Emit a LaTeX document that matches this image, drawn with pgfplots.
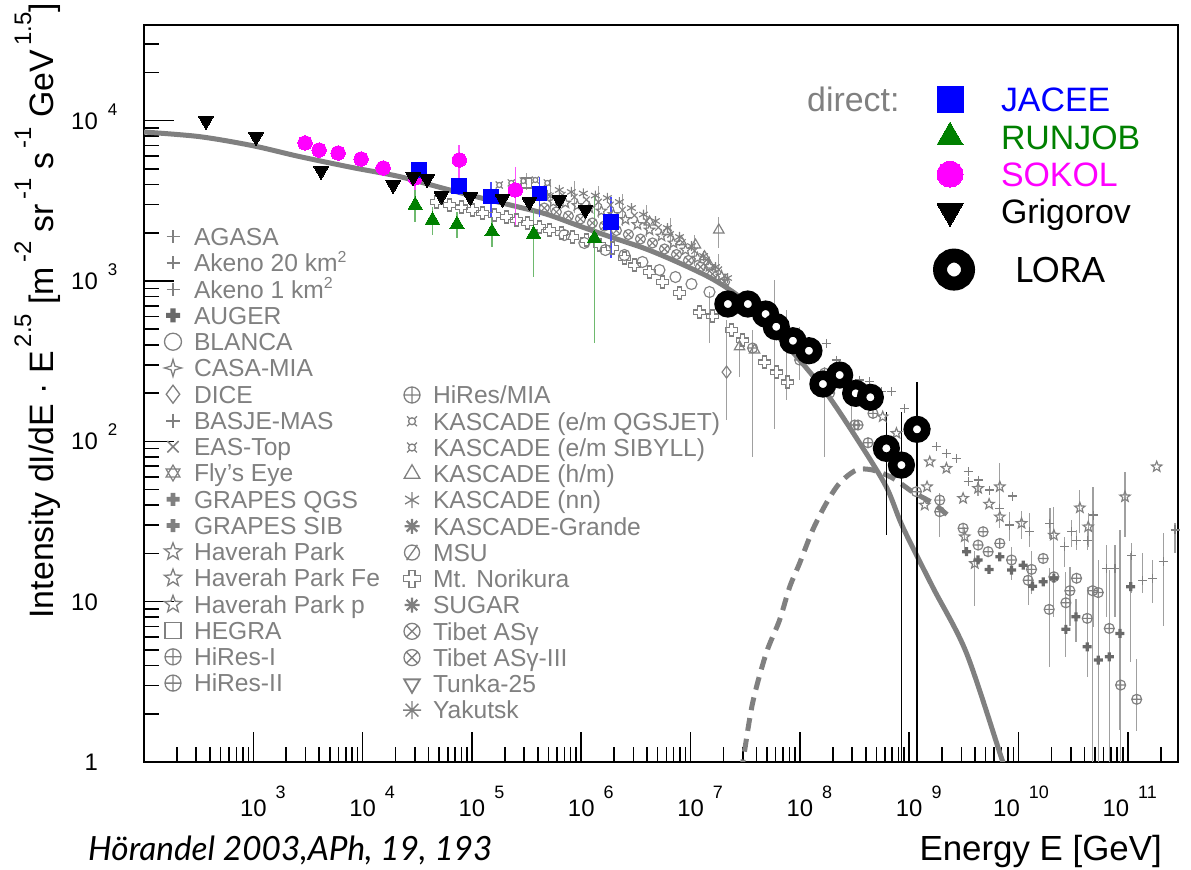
\documentclass[border=0pt]{standalone}
\usepackage{fontspec}
\setmainfont{Liberation Sans}
\newfontfamily\gill{Lato}
\usepackage{pgfplots}
\pgfplotsset{compat=1.18}
\usetikzlibrary{plotmarks}

\definecolor{gr}{RGB}{128,128,128}
\definecolor{grd}{RGB}{105,105,105}
\definecolor{grl}{RGB}{160,160,160}
\definecolor{rgreen}{RGB}{0,128,0}
\definecolor{rgbar}{RGB}{110,185,110}
\definecolor{jblue}{RGB}{0,0,255}
\definecolor{jbar}{RGB}{70,70,255}
\definecolor{smag}{RGB}{255,0,255}
\definecolor{sbar}{RGB}{255,80,255}

\pgfdeclareplotmark{ocross}{%
  \pgfpathmoveto{\pgfpoint{-0.35\pgfplotmarksize}{\pgfplotmarksize}}%
  \pgfpathlineto{\pgfpoint{0.35\pgfplotmarksize}{\pgfplotmarksize}}%
  \pgfpathlineto{\pgfpoint{0.35\pgfplotmarksize}{0.35\pgfplotmarksize}}%
  \pgfpathlineto{\pgfpoint{\pgfplotmarksize}{0.35\pgfplotmarksize}}%
  \pgfpathlineto{\pgfpoint{\pgfplotmarksize}{-0.35\pgfplotmarksize}}%
  \pgfpathlineto{\pgfpoint{0.35\pgfplotmarksize}{-0.35\pgfplotmarksize}}%
  \pgfpathlineto{\pgfpoint{0.35\pgfplotmarksize}{-\pgfplotmarksize}}%
  \pgfpathlineto{\pgfpoint{-0.35\pgfplotmarksize}{-\pgfplotmarksize}}%
  \pgfpathlineto{\pgfpoint{-0.35\pgfplotmarksize}{-0.35\pgfplotmarksize}}%
  \pgfpathlineto{\pgfpoint{-\pgfplotmarksize}{-0.35\pgfplotmarksize}}%
  \pgfpathlineto{\pgfpoint{-\pgfplotmarksize}{0.35\pgfplotmarksize}}%
  \pgfpathlineto{\pgfpoint{-0.35\pgfplotmarksize}{0.35\pgfplotmarksize}}%
  \pgfpathclose\pgfusepathqstroke}
\pgfdeclareplotmark{fcross}{%
  \pgfpathmoveto{\pgfpoint{-0.36\pgfplotmarksize}{\pgfplotmarksize}}%
  \pgfpathlineto{\pgfpoint{0.36\pgfplotmarksize}{\pgfplotmarksize}}%
  \pgfpathlineto{\pgfpoint{0.36\pgfplotmarksize}{0.36\pgfplotmarksize}}%
  \pgfpathlineto{\pgfpoint{\pgfplotmarksize}{0.36\pgfplotmarksize}}%
  \pgfpathlineto{\pgfpoint{\pgfplotmarksize}{-0.36\pgfplotmarksize}}%
  \pgfpathlineto{\pgfpoint{0.36\pgfplotmarksize}{-0.36\pgfplotmarksize}}%
  \pgfpathlineto{\pgfpoint{0.36\pgfplotmarksize}{-\pgfplotmarksize}}%
  \pgfpathlineto{\pgfpoint{-0.36\pgfplotmarksize}{-\pgfplotmarksize}}%
  \pgfpathlineto{\pgfpoint{-0.36\pgfplotmarksize}{-0.36\pgfplotmarksize}}%
  \pgfpathlineto{\pgfpoint{-\pgfplotmarksize}{-0.36\pgfplotmarksize}}%
  \pgfpathlineto{\pgfpoint{-\pgfplotmarksize}{0.36\pgfplotmarksize}}%
  \pgfpathlineto{\pgfpoint{-0.36\pgfplotmarksize}{0.36\pgfplotmarksize}}%
  \pgfpathclose\pgfusepathqfill}
\pgfdeclareplotmark{ostar}{%
  \pgfpathmoveto{\pgfpointpolar{90}{\pgfplotmarksize}}%
  \pgfpathlineto{\pgfpointpolar{126}{0.42\pgfplotmarksize}}%
  \pgfpathlineto{\pgfpointpolar{162}{\pgfplotmarksize}}%
  \pgfpathlineto{\pgfpointpolar{198}{0.42\pgfplotmarksize}}%
  \pgfpathlineto{\pgfpointpolar{234}{\pgfplotmarksize}}%
  \pgfpathlineto{\pgfpointpolar{270}{0.42\pgfplotmarksize}}%
  \pgfpathlineto{\pgfpointpolar{306}{\pgfplotmarksize}}%
  \pgfpathlineto{\pgfpointpolar{342}{0.42\pgfplotmarksize}}%
  \pgfpathlineto{\pgfpointpolar{18}{\pgfplotmarksize}}%
  \pgfpathlineto{\pgfpointpolar{54}{0.42\pgfplotmarksize}}%
  \pgfpathclose\pgfusepathqstroke}
\pgfdeclareplotmark{ofourstar}{%
  \pgfpathmoveto{\pgfpointpolar{90}{\pgfplotmarksize}}%
  \pgfpathlineto{\pgfpointpolar{45}{0.32\pgfplotmarksize}}%
  \pgfpathlineto{\pgfpointpolar{0}{\pgfplotmarksize}}%
  \pgfpathlineto{\pgfpointpolar{315}{0.32\pgfplotmarksize}}%
  \pgfpathlineto{\pgfpointpolar{270}{\pgfplotmarksize}}%
  \pgfpathlineto{\pgfpointpolar{225}{0.32\pgfplotmarksize}}%
  \pgfpathlineto{\pgfpointpolar{180}{\pgfplotmarksize}}%
  \pgfpathlineto{\pgfpointpolar{135}{0.32\pgfplotmarksize}}%
  \pgfpathclose\pgfusepathqstroke}
\pgfdeclareplotmark{hexagram}{%
  \pgfpathmoveto{\pgfpointpolar{90}{\pgfplotmarksize}}%
  \pgfpathlineto{\pgfpointpolar{210}{\pgfplotmarksize}}%
  \pgfpathlineto{\pgfpointpolar{330}{\pgfplotmarksize}}%
  \pgfpathclose
  \pgfpathmoveto{\pgfpointpolar{270}{\pgfplotmarksize}}%
  \pgfpathlineto{\pgfpointpolar{30}{\pgfplotmarksize}}%
  \pgfpathlineto{\pgfpointpolar{150}{\pgfplotmarksize}}%
  \pgfpathclose\pgfusepathqstroke}
\pgfdeclareplotmark{currency}{%
  \pgfpathcircle{\pgfpointorigin}{0.5\pgfplotmarksize}%
  \pgfpathmoveto{\pgfpointpolar{45}{0.5\pgfplotmarksize}}\pgfpathlineto{\pgfpointpolar{45}{\pgfplotmarksize}}%
  \pgfpathmoveto{\pgfpointpolar{135}{0.5\pgfplotmarksize}}\pgfpathlineto{\pgfpointpolar{135}{\pgfplotmarksize}}%
  \pgfpathmoveto{\pgfpointpolar{225}{0.5\pgfplotmarksize}}\pgfpathlineto{\pgfpointpolar{225}{\pgfplotmarksize}}%
  \pgfpathmoveto{\pgfpointpolar{315}{0.5\pgfplotmarksize}}\pgfpathlineto{\pgfpointpolar{315}{\pgfplotmarksize}}%
  \pgfusepathqstroke}
\pgfdeclareplotmark{oslash}{%
  \pgfpathcircle{\pgfpointorigin}{\pgfplotmarksize}%
  \pgfpathmoveto{\pgfpointpolar{235}{1.25\pgfplotmarksize}}\pgfpathlineto{\pgfpointpolar{55}{1.25\pgfplotmarksize}}%
  \pgfusepathqstroke}
\pgfdeclareplotmark{asteight}{%
  \pgfpathmoveto{\pgfpointpolar{0}{\pgfplotmarksize}}\pgfpathlineto{\pgfpointpolar{180}{\pgfplotmarksize}}%
  \pgfpathmoveto{\pgfpointpolar{45}{\pgfplotmarksize}}\pgfpathlineto{\pgfpointpolar{225}{\pgfplotmarksize}}%
  \pgfpathmoveto{\pgfpointpolar{90}{\pgfplotmarksize}}\pgfpathlineto{\pgfpointpolar{270}{\pgfplotmarksize}}%
  \pgfpathmoveto{\pgfpointpolar{135}{\pgfplotmarksize}}\pgfpathlineto{\pgfpointpolar{315}{\pgfplotmarksize}}%
  \pgfusepathqstroke}

\newcommand{\xtl}[2]{\makebox[0pt]{\hspace*{#2}10\rlap{\hspace{9bp}\raisebox{18bp}{\fontsize{18}{18}\selectfont #1}}}}
\newcommand{\ytl}[1]{10\rlap{\hspace{10bp}\raisebox{14bp}{\fontsize{17}{17}\selectfont #1}}}
\newcommand{\sps}[1]{\hspace{4bp}\raisebox{22bp}{\fontsize{24}{24}\selectfont #1}}
\newcommand{\kms}{\raisebox{9.5bp}{\fontsize{16}{16}\selectfont 2}}

\pgfplotsset{
  gdat/.style={only marks, color=gr, mark options={solid, line width=1.15bp},
    error bars/y dir=both, error bars/y explicit relative,
    error bars/error bar style={color=grl, line width=1.2bp},
    error bars/error mark=none},
}

\begin{document}
\begin{tikzpicture}[x=1bp,y=1bp]
\useasboundingbox (0,0) rectangle (1191,870);

\begin{axis}[
  at={(144bp,108bp)}, anchor=south west,
  scale only axis, width=1034bp, height=737bp,
  xmode=log, ymode=log,
  xmin=100, xmax=2.876e11, ymin=1, ymax=39540,
  axis line style={line width=2bp, black},
  tick style={line width=1.6bp, black},
  major tick length=30bp, minor tick length=15bp,
  tick align=inside,
  xtick pos=bottom, ytick pos=left,
  xtick={1e3,1e4,1e5,1e6,1e7,1e8,1e9,1e10,1e11},
  xticklabels={\xtl{3}{0bp},\xtl{4}{0bp},\xtl{5}{0bp},\xtl{6}{0bp},\xtl{7}{0bp},\xtl{8}{0bp},\xtl{9}{0bp},\xtl{10}{-24bp},\xtl{11}{-24bp}},
  minor xtick={200,300,400,500,600,700,800,900,
    2e3,3e3,4e3,5e3,6e3,7e3,8e3,9e3,
    2e4,3e4,4e4,5e4,6e4,7e4,8e4,9e4,
    2e5,3e5,4e5,5e5,6e5,7e5,8e5,9e5,
    2e6,3e6,4e6,5e6,6e6,7e6,8e6,9e6,
    2e7,3e7,4e7,5e7,6e7,7e7,8e7,9e7,
    2e8,3e8,4e8,5e8,6e8,7e8,8e8,9e8,
    2e9,3e9,4e9,5e9,6e9,7e9,8e9,9e9,
    2e10,3e10,4e10,5e10,6e10,7e10,8e10,9e10,2e11},
  ytick={1,10,100,1000,10000},
  yticklabels={1,10,\ytl{2},\ytl{3},\ytl{4}},
  minor ytick={2,3,4,5,6,7,8,9,20,30,40,50,60,70,80,90,200,300,400,500,600,700,800,900,
    2000,3000,4000,5000,6000,7000,8000,9000,20000,30000},
  tick label style={font=\fontsize{24}{24}\selectfont, inner sep=0pt},
  xticklabel style={anchor=base, yshift=-55bp},
  yticklabel style={anchor=base east, xshift=-46bp, yshift=-8.6bp},
]

% ---- grey compilation of air shower data ----
% Mt. Norikura
\addplot[gdat, mark=ocross, mark size=6bp] coordinates {
(4.71e4,3110) (6.20e4,2980) (7.98e4,2894) (1.006e5,2773) (1.242e5,2656) (1.600e5,2581)
(2.061e5,2507) (2.545e5,2402) (3.21e5,2301) (4.13e5,2172) (5.11e5,2081) (6.58e5,1993)
(8.29e5,1882) (1.114e6,1803) (1.465e6,1677) (1.928e6,1607) (2.483e6,1392) (3.064e6,1258)
(4.205e6,1138) (5.53e6,985.8) (7.92e6,841.8) (1.207e7,640.6) (1.587e7,604.7) (2.369e7,494.8)
(2.986e7,428.5) (4.75e7,312.4) (6.12e7,270.5) (7.72e7,234.4)};
% BLANCA-like circles
\addplot[gdat, mark=o, mark size=5.5bp] coordinates {
(7.0e5,1936) (1.067e6,1727) (1.663e6,1561) (2.483e6,1453) (3.627e6,1314) (5.19e6,1171)
(7.27e6,1059) (1.019e7,957.8) (1.489e7,854.0) += (0,0) -= (0,0.52)};
% knee cloud
\addplot[gdat, mark=asterisk, mark size=5bp] coordinates {
(4.89e5,3440) (6.30e5,3697) (8.11e5,3592) (1.045e6,3515) (1.346e6,3415) (1.734e6,3295)
(2.233e6,3110) (2.877e6,2853) (3.706e6,2599) (4.77e6,2367) (6.14e6,2141) (7.92e6,1882)
(1.019e7,1653) (1.315e7,1432) (1.690e7,1223) (2.178e7,1044)};
\addplot[gdat, mark=ostar, mark size=5.5bp] coordinates {
(5.55e5,3110) (7.15e5,3066) (9.21e5,2958) (1.186e6,2853) (1.528e6,2734) (1.968e6,2599)
(2.534e6,2420) (3.264e6,2252) (4.205e6,2081) (5.41e6,1909) (6.97e6,1727) (8.98e6,1561)
(1.157e7,1392) (1.489e7,1232) (1.919e7,1074)};
\addplot[gdat, mark=otimes, mark size=5bp] coordinates {
(4.59e5,2853) (5.92e5,2695) (7.62e5,2544) (9.82e5,2437) (1.264e6,2301) (1.627e6,2203)
(2.096e6,2065) (2.699e6,1951) (3.477e6,1828) (4.478e6,1727) (5.77e6,1584) (7.43e6,1463)
(9.57e6,1343) (1.232e7,1223) (1.587e7,1106) (2.044e7,985.8)};
\addplot[gdat, mark=x, mark size=4.5bp] coordinates {
(5.21e5,3391) += (0,0.26) -= (0,0.2)
(6.71e5,3440)
(8.65e5,3342) += (0,0.26) -= (0,0.2)
(1.114e6,3216)
(1.435e6,3110) += (0,0.26) -= (0,0.2)
(1.847e6,2980)
(2.379e6,2773) += (0,0.26) -= (0,0.2)
(3.064e6,2566)
(3.946e6,2367) += (0,0.26) -= (0,0.2)
(5.08e6,2160)
(6.55e6,1951) += (0,0.26) -= (0,0.2)
(8.43e6,1741)
(1.086e7,1543) += (0,0.26) -= (0,0.2)
(1.399e7,1354)
(1.812e7,1176) += (0,0.26) -= (0,0.2)};
\addplot[gdat, mark=currency, mark size=5bp] coordinates {
(1.778e5,3971) (2.291e5,4088) (2.950e5,4206) (3.80e5,4267) (4.89e5,4088)};
% KASCADE (h/m)
\addplot[gdat, mark=triangle, mark size=6bp] coordinates {
(4.205e6,2334) (6.14e6,2030) (8.20e6,1759) (1.109e7,1677) (1.341e7,1418) (1.489e7,1258)
(1.812e7,2081) += (0,0.21) -= (0,0.23)
(2.805e7,389.1) += (0,0.155) -= (0,0.35)
(3.85e7,371.1)};
% DICE
\addplot[gdat, mark=diamond, mark size=6bp] coordinates {
(2.133e7,270.5) += (0,1.11) -= (0,0.50)};
% HEGRA
\addplot[gdat, mark=square, mark size=5bp] coordinates {
(3.14e5,4088) += (0,0.15) -= (0,0.1)};
% HiRes-like points 1e7.5-1e8.5
\addplot[gdat, mark=oplus, mark size=5bp] coordinates {
(3.69e7,382) += (0,0.295) -= (0,0.79)
(4.276e7,631.6)
(5.87e7,494.8) += (0,1.05) -= (0,0.76)
(7.51e7,410.5) += (0,0.61) -= (0,0.56)
(9.94e7,321.5) += (0,0.61) -= (0,0.25)
(1.272e8,355.5)
(1.683e8,266.7) += (0,0.095) -= (0,0.70)
(1.871e8,200.1)
(2.957e8,208.9) += (0,0.05) -= (0,0.46)
(3.40e8,126.4)};
% AGASA / Akeno crosses
\addplot[gdat, mark=+, mark size=4.5bp] coordinates {
(1.75e8,409) (2.15e8,321.5) (3.52e8,241.3) (4.35e8,235.4) (5.57e8,203.9) (6.87e8,203.9)
(9.1e8,160.6) (1.164e9,135.8) (1.437e9,120.5) (1.775e9,92.5) (2.19e9,84.2) (2.705e9,78.3)
(3.456e9,64.6) (3.456e9,56.0) (4.266e9,57.4) (5.46e9,49.7)
(6.74e9,38.2) += (0,0.3) -= (0,0.25)
(8.81e9,45.6)
(8.32e9,30.05) += (0,0.2) -= (0,0.2)
(1.269e10,27.3) += (0,0.31) -= (0,0.2)
(1.936e10,30.8) += (0,0.25) -= (0,0.2)
(2.655e10,22.0) += (0,0.15) -= (0,0.25)
(3.057e10,27.3) += (0,0.18) -= (0,0.2)
(3.397e10,24.2) += (0,0.15) -= (0,0.13)
(4.25e10,24.2) += (0,0.15) -= (0,0.13)
(4.82e10,34.7) += (0,0.5) -= (0,0.8)
(6.40e10,16.1) += (0,0.4) -= (0,0.5)
(7.62e10,16.1) += (0,0.4) -= (0,0.5)
(1.084e11,19.5) += (0,0.19) -= (0,0.42)
(1.366e11,13.6) += (0,0.47) -= (0,0.17)
(1.687e11,14.0) += (0,0.3) -= (0,0.3)
(2.11e11,17.7) += (0,0.51) -= (0,0.6)
(2.70e11,28.0) += (0,0.1) -= (0,0.28)};
% Haverah Park
\addplot[gdat, mark=ostar, mark size=5.5bp] coordinates {
(5.72e8,142.3) (7.64e8,112.2) (1.541e9,74.6) (2.19e9,67.9) (1.455e9,52.1) (1.387e9,40.05)
(3.11e9,44.1)
(4.266e9,50.9) += (0,0.1) -= (0,0.1)
(6.74e9,52.1) += (0,0.4) -= (0,0.31)
(5.38e9,40.6) (6.74e9,33.8)
(3.22e9,25.4) += (0,0.15) -= (0,0.2)
(3.98e9,17.3) += (0,0.2) -= (0,0.46)
(1.065e10,30.8) += (0,0.2) -= (0,0.2)
(2.105e10,26.0) += (0,0.5) -= (0,0.37)
(3.64e10,38.5) += (0,0.29) -= (0,0.30)
(4.34e10,29.3) += (0,0.22) -= (0,0.25)
(9.41e10,45.1) += (0,0.43) -= (0,0.44)
(1.836e11,69.4)};
% HiRes
\addplot[gdat, mark=oplus, mark size=5bp] coordinates {
(3.17e8,126.4) (4.20e8,98.0) (4.66e8,149.5) (6.18e8,99.4) (7.11e8,84.2) (1.164e9,48.5)
(1.902e9,43.0)
(1.902e9,36.4) += (0,0.3) -= (0,0.3)
(3.11e9,28.7) (4.74e9,27.3) (4.266e9,22.55) (5.27e9,20.5) (6.74e9,23.1)
(8.63e9,18.2) += (0,0.2) -= (0,0.25)
(1.315e10,15.9) += (0,0.3) -= (0,0.3)
(1.224e10,13.6) += (0,0.25) -= (0,0.3)
(1.680e10,18.6)
(2.105e10,14.3) += (0,0.82) -= (0,0.44)
(1.906e10,8.95) += (0,0.82) -= (0,0.56)
(2.71e10,9.84) += (0,0.55) -= (0,0.48)
(2.95e10,11.7) += (0,0.4) -= (0,0.4)
(3.397e10,14.0)
(4.25e10,7.87) += (0,0.58) -= (0,0.56)
(4.76e10,11.7) += (0,3.45) -= (0,0.96)
(5.36e10,11.4) += (0,0.6) -= (0,0.96)
(6.76e10,6.81) += (0,1.09) -= (0,0.93)
(8.59e10,3.02) += (0,2.55) -= (0,0.85)
(1.205e11,2.46) += (0,0.78) -= (0,0.37)};
% AUGER / GRAPES filled crosses
\addplot[gdat, color=grd, mark=fcross, mark size=4.5bp] coordinates {
(3.342e9,20.5) (4.266e9,18.2) (5.38e9,15.9) (6.74e9,19.06) (8.63e9,15.74) (1.102e10,16.9)
(1.343e10,12.5) (1.680e10,13.3) (2.105e10,14.0)
(2.71e10,6.72) += (0,0.32) -= (0,0.33)
(3.35e10,8.05) += (0,0.3) -= (0,0.3)
(4.25e10,5.23) += (0,1.04) -= (0,0.35)
(5.36e10,4.32) += (0,2.8) -= (0,0.9)
(6.76e10,4.53) += (0,2.47) -= (0,0.9)
(8.47e10,6.34) += (0,3.4) -= (0,0.75)
(1.061e11,12.4) += (0,0.62) -= (0,0.66)};

% ---- model lines ----
\addplot[gr, line width=5bp, smooth, line join=round] coordinates {
(95,8520) (318.4,7962) (972.7,6998) (2618,5984) (8017,5105) (21580,4487) (57810,3750)
(116700,3319) (233900,2958) (476400,2618) (961600,2203) (1.928e6,1866) (3.917e6,1585)
(7.925e6,1294) (1.592e7,1028) (2.812e7,794.3) (4.285e7,587.5) (8.59e7,360.6) (1.746e8,200)
(3.524e8,97.5) (6.18e8,51.9) (8.73e8,29.2) (1.641e9,12.33) (3.342e9,4.775) (7.178e9,1.0)
(8.9e9,0.65)};
\addplot[gr, line width=5bp, dash pattern=on 13bp off 8bp, smooth] coordinates {
(2.692e7,0.64) (3.006e7,1.0) (3.690e7,2.328) (4.920e7,4.775) (6.516e7,7.674) (8.054e7,12.33)
(9.954e7,17.42) (1.309e8,27.99) (1.746e8,41.21) (2.312e8,54.95) (3.289e8,66.22)
(4.634e8,66.22) (7.063e8,59.02) (1.076e9,48.31) (1.641e9,41.21) (2.350e9,33.73)};

% ---- LORA ----
\addplot[only marks, mark=*, mark size=8.8bp, mark options={draw=black, fill=white, line width=9.5bp},
  error bars/y dir=both, error bars/y explicit relative,
  error bars/error bar style={black, line width=1.6bp}, error bars/error mark=none] coordinates {
(2.193e7,718.8) (3.340e7,718.8) (4.853e7,622.3) (6.081e7,518.8) (8.630e7,424.2) (1.209e8,367.5)
(1.624e8,227.8) (2.310e8,259.2) (3.236e8,199.3) (4.411e8,188.2)
(6.180e8,90.4) += (0,0.686) -= (0,0.712)
(8.486e8,71.1) += (0,1.14) -= (0,0.993)
(1.178e9,118.8) += (0,0.98) -= (0,0.996)};

% ---- direct measurements ----
% RUNJOB
\addplot[only marks, color=rgreen, mark=triangle*, mark size=8.2bp, mark options={line width=0bp},
  error bars/y dir=both, error bars/y explicit relative,
  error bars/error bar style={rgbar, line width=1.6bp}, error bars/error mark=none] coordinates {
(3.027e4,2979) += (0,0.241) -= (0,0.213)
(4.355e4,2402) += (0,0.211) -= (0,0.194)
(7.29e4,2258) += (0,0.198) -= (0,0.182)
(1.525e5,2030) += (0,0.240) -= (0,0.194)
(3.664e5,1964) += (0,0.412) -= (0,0.458)
(1.318e6,1846) += (0,0.864) -= (0,0.777)};
% SOKOL
\addplot[only marks, color=smag, mark=*, mark size=7.2bp, mark options={line width=0bp},
  error bars/y dir=both, error bars/y explicit relative,
  error bars/error bar style={sbar, line width=1.6bp}, error bars/error mark=none] coordinates {
(2972,7261) (3999,6561) (5970,6288) (9683,5768) (15410,5070)
(30270,4399) += (0,0.05) -= (0,0.16)
(76560,5689) += (0,0.239) -= (0,0.378)
(249300,3700) += (0,0.395) -= (0,0.411)};
% JACEE
\addplot[only marks, color=jblue, mark=square*, mark size=7.3bp, mark options={line width=0bp},
  error bars/y dir=both, error bars/y explicit relative,
  error bars/error bar style={jbar, line width=1.6bp}, error bars/error mark=none] coordinates {
(3.289e4,4925) += (0,0.05) -= (0,0.05)
(7.656e4,3915) += (0,0.124) -= (0,0.121)
(1.493e5,3357) += (0,0.241) -= (0,0.25)
(4.134e5,3524) += (0,0.27) -= (0,0.286)
(1.875e6,2344) += (0,0.432) -= (0,0.409)};
% Grigorov
\addplot[only marks, color=black, mark=triangle*, mark size=8.3bp, mark options={rotate=180, line width=0bp}] coordinates {
(369,9954) (1059,7907) (4169,4853) (19010,3972) (28970,4457) (38900,4325) (52480,3388)
(96610,3342) (189700,3251) (335000,3112) (631000,3199) (1.091e6,2773)};
\end{axis}

% ---- legend, first column ----
\begin{axis}[at={(0bp,0bp)}, anchor=south west, scale only axis, width=1191bp, height=870bp,
  hide axis, xmin=0, xmax=1, ymin=0, ymax=1,
  legend cell align=left,
  legend style={at={(0.13770,0.74075)}, anchor=north west, draw=none, fill=none,
    inner sep=0pt, outer sep=0pt, row sep=0pt, text=gr,
    font=\fontsize{24.7}{24.7}\selectfont,
    nodes={inner sep=0pt, text height=20bp, text depth=6.26bp},
    /tikz/every odd column/.append style={column sep=12bp}},
  legend image code/.code={\path[draw=none,fill=none] (-9bp,-13.13bp) rectangle (9bp,13.13bp); \draw[#1] plot coordinates {(0bp,1.98bp)};},
]
\addlegendimage{mark=+, gr, mark size=6.5bp, mark options={line width=1.4bp}}
\addlegendentry{AGASA}
\addlegendimage{mark=+, gr, mark size=6.5bp, mark options={line width=1.4bp}}
\addlegendentry{Akeno 20 km\kms}
\addlegendimage{mark=+, gr, mark size=6.5bp, mark options={line width=1.4bp}}
\addlegendentry{Akeno 1 km\kms}
\addlegendimage{mark=fcross, grd, mark size=7bp}
\addlegendentry{AUGER}
\addlegendimage{mark=o, gr, mark size=8.5bp, mark options={line width=1.3bp}}
\addlegendentry{BLANCA}
\addlegendimage{mark=ofourstar, gr, mark size=8.5bp, mark options={line width=1.3bp}}
\addlegendentry{CASA-MIA}
\addlegendimage{mark=diamond, gr, mark size=9bp, mark options={line width=1.3bp}}
\addlegendentry{DICE}
\addlegendimage{mark=+, gr, mark size=7bp, mark options={line width=2bp}}
\addlegendentry{BASJE-MAS}
\addlegendimage{mark=x, gr, mark size=8bp, mark options={line width=1.5bp}}
\addlegendentry{EAS-Top}
\addlegendimage{mark=hexagram, gr, mark size=8bp, mark options={line width=1.2bp}}
\addlegendentry{Fly's Eye}
\addlegendimage{mark=fcross, gr, mark size=6.5bp}
\addlegendentry{GRAPES QGS}
\addlegendimage{mark=fcross, gr, mark size=6.5bp}
\addlegendentry{GRAPES SIB}
\addlegendimage{mark=ostar, gr, mark size=9bp, mark options={line width=1.3bp}}
\addlegendentry{Haverah Park}
\addlegendimage{mark=ostar, gr, mark size=9bp, mark options={line width=1.3bp}}
\addlegendentry{Haverah Park Fe}
\addlegendimage{mark=ostar, gr, mark size=9bp, mark options={line width=1.3bp}}
\addlegendentry{Haverah Park p}
\addlegendimage{mark=square, gr, mark size=8bp, mark options={line width=1.3bp}}
\addlegendentry{HEGRA}
\addlegendimage{mark=oplus, gr, mark size=8bp, mark options={line width=1.3bp}}
\addlegendentry{HiRes-I}
\addlegendimage{mark=oplus, gr, mark size=8bp, mark options={line width=1.3bp}}
\addlegendentry{HiRes-II}
\end{axis}

% ---- legend, second column ----
\begin{axis}[at={(0bp,0bp)}, anchor=south west, scale only axis, width=1191bp, height=870bp,
  hide axis, xmin=0, xmax=1, ymin=0, ymax=1,
  legend cell align=left,
  legend style={at={(0.33837,0.55879)}, anchor=north west, draw=none, fill=none,
    inner sep=0pt, outer sep=0pt, row sep=0pt, text=gr,
    font=\fontsize{24.7}{24.7}\selectfont,
    nodes={inner sep=0pt, text height=20bp, text depth=6.26bp},
    /tikz/every odd column/.append style={column sep=12bp}},
  legend image code/.code={\path[draw=none,fill=none] (-9bp,-13.13bp) rectangle (9bp,13.13bp); \draw[#1] plot coordinates {(0bp,1.98bp)};},
]
\addlegendimage{mark=oplus, gr, mark size=8bp, mark options={line width=1.3bp}}
\addlegendentry{HiRes/MIA}
\addlegendimage{mark=currency, gr, mark size=7bp, mark options={line width=1.3bp}}
\addlegendentry{KASCADE (e/m QGSJET)}
\addlegendimage{mark=currency, gr, mark size=7bp, mark options={line width=1.3bp}}
\addlegendentry{KASCADE (e/m SIBYLL)}
\addlegendimage{mark=triangle, gr, mark size=9bp, mark options={line width=1.3bp}}
\addlegendentry{KASCADE (h/m)}
\addlegendimage{mark=asterisk, gr, mark size=8bp, mark options={line width=1.3bp}}
\addlegendentry{KASCADE (nn)}
\addlegendimage{mark=asteight, gr, mark size=7.5bp, mark options={line width=2.2bp}}
\addlegendentry{KASCADE-Grande}
\addlegendimage{mark=oslash, gr, mark size=7.5bp, mark options={line width=1.3bp}}
\addlegendentry{MSU}
\addlegendimage{mark=ocross, gr, mark size=8.5bp, mark options={line width=1.3bp}}
\addlegendentry{Mt. Norikura}
\addlegendimage{mark=asteight, gr, mark size=7.5bp, mark options={line width=2.2bp}}
\addlegendentry{SUGAR}
\addlegendimage{mark=otimes, gr, mark size=8bp, mark options={line width=1.3bp}}
\addlegendentry{Tibet ASγ}
\addlegendimage{mark=otimes, gr, mark size=8bp, mark options={line width=1.3bp}}
\addlegendentry{Tibet ASγ-III}
\addlegendimage{mark=triangle, gr, mark size=9bp, mark options={rotate=180, line width=1.8bp}}
\addlegendentry{Tunka-25}
\addlegendimage{mark=asteight, gr, mark size=9bp, mark options={line width=1.3bp}}
\addlegendentry{Yakutsk}
\end{axis}

% ---- legend, direct measurements ----
\begin{axis}[at={(0bp,0bp)}, anchor=south west, scale only axis, width=1191bp, height=870bp,
  hide axis, xmin=0, xmax=1, ymin=0, ymax=1,
  legend cell align=left,
  legend style={at={(0.78589,0.90207)}, anchor=north west, draw=none, fill=none,
    inner sep=0pt, outer sep=0pt, row sep=0pt,
    font=\fontsize{34}{34}\selectfont,
    nodes={inner sep=0pt, text height=26bp, text depth=11bp},
    /tikz/every odd column/.append style={column sep=37bp}},
  legend image code/.code={\path[draw=none,fill=none] (-14bp,-18.5bp) rectangle (14bp,18.5bp); \draw[#1] plot coordinates {(0bp,4.67bp)};},
]
\addlegendimage{mark=square*, jblue, mark size=13bp, mark options={line width=0bp}}
\addlegendentry{\textcolor{jblue}{JACEE}}
\addlegendimage{mark=triangle*, rgreen, mark size=15bp, mark options={line width=0bp}}
\addlegendentry{\textcolor{rgreen}{RUNJOB}}
\addlegendimage{mark=*, smag, mark size=13bp, mark options={line width=0bp}}
\addlegendentry{\textcolor{smag}{SOKOL}}
\addlegendimage{mark=triangle*, black, mark size=15bp, mark options={rotate=180, line width=0bp}}
\addlegendentry{Grigorov}
\end{axis}

% ---- legend, LORA ----
\begin{axis}[at={(0bp,0bp)}, anchor=south west, scale only axis, width=1191bp, height=870bp,
  hide axis, xmin=0, xmax=1, ymin=0, ymax=1,
  legend cell align=left,
  legend style={at={(0.78338,0.70621)}, anchor=north west, draw=none, fill=none,
    inner sep=0pt, outer sep=0pt, row sep=0pt,
    font=\gill\fontsize{35}{35}\selectfont,
    nodes={inner sep=0pt, text height=26bp, text depth=11bp},
    /tikz/every odd column/.append style={column sep=40bp}},
  legend image code/.code={\path[draw=none,fill=none] (-21bp,-18.5bp) rectangle (21bp,18.5bp); \draw[#1] plot coordinates {(0bp,5.1bp)};},
]
\addlegendimage{mark=*, mark size=14bp, mark options={draw=black, fill=white, line width=14bp}}
\addlegendentry{LORA}
\end{axis}

% ---- texts ----
\node[anchor=base west, inner sep=0pt, text=gr, font=\fontsize{34}{34}\selectfont] at (807,758.8) {direct:};
\node[rotate=90, anchor=base east, inner sep=0pt, font=\fontsize{34}{34}\selectfont] at (53,867)
  {Intensity dI/dE · E\sps{2.5} [m\sps{-2} sr\sps{-1} s\sps{-1} GeV\sps{1.5}]};
\node[anchor=base east, inner sep=0pt, font=\fontsize{35}{35}\selectfont] at (1162,9) {Energy E [GeV]};
\node[anchor=base west, inner sep=0pt, font=\gill\itshape\fontsize{33.5}{33.5}\selectfont] at (88,9) {Hörandel 2003,APh, 19, 193};
\end{tikzpicture}
\end{document}
